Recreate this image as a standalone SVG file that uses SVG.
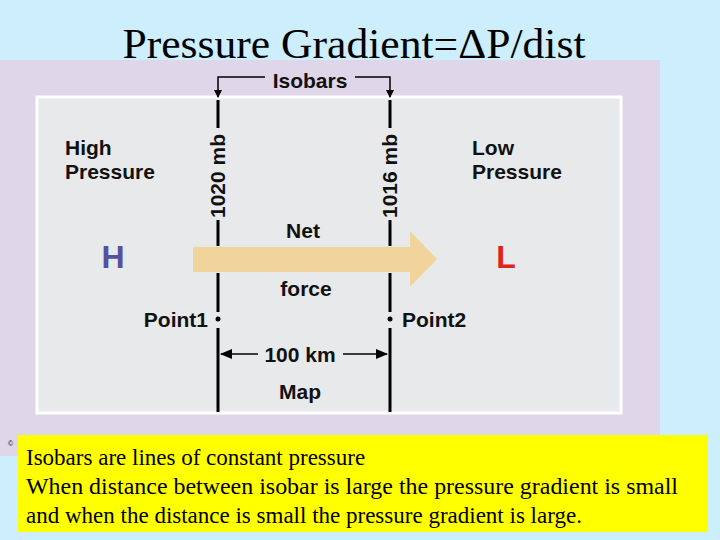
<svg xmlns="http://www.w3.org/2000/svg" width="720" height="540" viewBox="0 0 720 540">
<style>
.s{font-family:"Liberation Sans",Arial,sans-serif;font-weight:bold;fill:#111;font-size:21px}
.t{font-family:"Liberation Serif","Times New Roman",serif;fill:#000}
.ln{stroke:#000;stroke-width:3;fill:none}
.th{stroke:#000;stroke-width:1.5;fill:none}
</style>
<defs>
<marker id="ah" markerWidth="8" markerHeight="8" refX="7" refY="4" orient="auto" markerUnits="userSpaceOnUse"><path d="M0,0 L8,4 L0,8 Z" fill="#000"/></marker>
<marker id="ah2" markerWidth="12" markerHeight="10" refX="11" refY="5" orient="auto" markerUnits="userSpaceOnUse"><path d="M0,0 L12,5 L0,10 Z" fill="#000"/></marker>
</defs>
<rect width="720" height="540" fill="#cdeefd"/>
<text class="t" x="354" y="58" font-size="43" text-anchor="middle" textLength="463" lengthAdjust="spacingAndGlyphs">Pressure Gradient=ΔP/dist</text>
<rect x="0" y="60" width="660" height="396" fill="#e0d6ea"/>
<rect x="37" y="97" width="584" height="316" fill="#e8e9ea" stroke="#fff" stroke-width="3"/>
<g id="arrow"><path d="M193,247 H410 V231 L437,259 L410,287 V272 H193 Z" fill="#f1d49b"/></g>
<g id="connectors">
<path class="ln" d="M218,100 V128 M218,220 V246 M218,273 V312 M218,328 V412"/>
<path class="ln" d="M390,100 V128 M390,220 V246 M390,273 V312 M390,328 V412"/>
<path class="th" d="M265,77 H218 V97" marker-end="url(#ah)"/>
<path class="th" d="M355,77 H390 V97" marker-end="url(#ah)"/>
<path class="th" d="M258,354 H221" marker-end="url(#ah2)"/>
<path class="th" d="M343,354 H387" marker-end="url(#ah2)"/>
</g>
<circle cx="218" cy="319" r="2.5" fill="#000"/>
<circle cx="390" cy="319" r="2.5" fill="#000"/>
<g id="labels">
<text class="s" x="310" y="88" text-anchor="middle">Isobars</text>
<text class="s" x="65" y="155">High</text>
<text class="s" x="65" y="179">Pressure</text>
<text class="s" x="472" y="155">Low</text>
<text class="s" x="472" y="179">Pressure</text>
<text class="s" transform="translate(225,218) rotate(-90)">1020 mb</text>
<text class="s" transform="translate(397,218) rotate(-90)">1016 mb</text>
<text class="s" x="113" y="268" font-size="32" text-anchor="middle" style="fill:#55519f;font-size:32px">H</text>
<text class="s" x="506" y="268" text-anchor="middle" style="fill:#e2231a;font-size:32px">L</text>
<text class="s" x="303" y="238" text-anchor="middle">Net</text>
<text class="s" x="306" y="296" text-anchor="middle">force</text>
<text class="s" x="208" y="327" text-anchor="end">Point1</text>
<text class="s" x="402" y="327">Point2</text>
<text class="s" x="300" y="362" text-anchor="middle">100 km</text>
<text class="s" x="300" y="399" text-anchor="middle">Map</text>
<text x="8" y="446" font-size="7" font-family="Liberation Sans,sans-serif">©</text>
</g>
<rect x="18" y="435" width="690" height="97" fill="#ffff00"/>
<g class="t" font-size="23">
<text x="26" y="465">Isobars are lines of constant pressure</text>
<text x="26" y="494" textLength="652" lengthAdjust="spacingAndGlyphs">When distance between isobar is large the pressure gradient is small</text>
<text x="26" y="523">and when the distance is small the pressure gradient is large.</text>
</g>
</svg>
